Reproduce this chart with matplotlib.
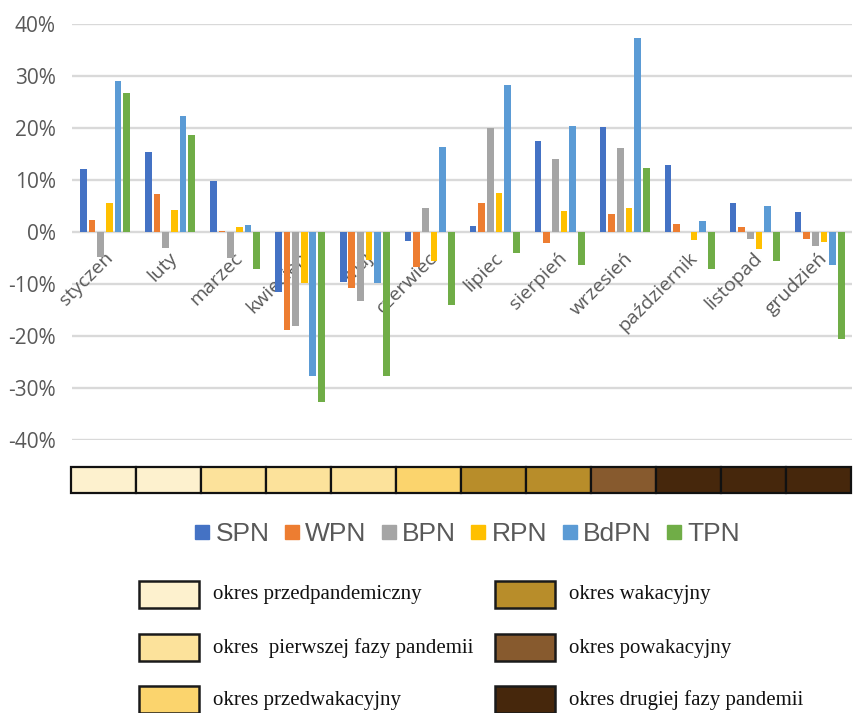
import numpy as np
import matplotlib
matplotlib.use("Agg")
import matplotlib.pyplot as plt
from matplotlib.patches import Rectangle
from matplotlib.lines import Line2D

months = ["styczeń", "luty", "marzec", "kwiecień", "maj", "czerwiec",
          "lipiec", "sierpień", "wrzesień", "październik", "listopad", "grudzień"]

series_names = ["SPN", "WPN", "BPN", "RPN", "BdPN", "TPN"]
series_colors = ["#4472C4", "#ED7D31", "#A5A5A5", "#FFC000", "#5B9BD5", "#70AD47"]

SPN = [12.2, 15.4, 9.8, -11.6, -9.6, -1.7, 1.1, 17.5, 20.3, 12.9, 5.6, 3.8]
WPN = [2.4, 7.4, 0.3, -18.8, -10.8, -6.8, 5.6, -2.1, 3.4, 1.5, 0.9, -1.3]
BPN = [-4.8, -3.0, -5.0, -18.1, -13.3, 4.7, 20.1, 14.1, 16.1, 0.0, -1.3, -2.6]
RPN = [5.6, 4.3, 0.9, -9.8, -5.3, -5.6, 7.5, 4.1, 4.7, -1.5, -3.2, -1.9]
BdPN = [29.1, 22.3, 1.3, -27.7, -9.7, 16.4, 28.3, 20.5, 37.3, 2.2, 5.1, -6.4]
TPN = [26.7, 18.6, -7.1, -32.7, -27.7, -14.1, -4.1, -6.4, 12.4, -7.1, -5.6, -20.6]
series_values = [SPN, WPN, BPN, RPN, BdPN, TPN]

y_ticks = [-40, -30, -20, -10, 0, 10, 20, 30, 40]

periods = ["okres przedpandemiczny", "okres  pierwszej fazy pandemii",
           "okres przedwakacyjny", "okres wakacyjny", "okres powakacyjny",
           "okres drugiej fazy pandemii"]
period_colors = ["#FDF1CE", "#FCE29B", "#FBD46D", "#B88D2A", "#875A2E", "#46270C"]
month_period = [0, 0, 1, 1, 1, 2, 3, 3, 4, 5, 5, 5]

W, H = 854, 713
fig = plt.figure(figsize=(W / 100, H / 100), dpi=100)

def fx(px):
    return px / W

def fy(py):
    return 1 - py / H

# main bar chart
ax = fig.add_axes([fx(72.5), fy(440), fx(852 - 72.5), (440 - 24.3) / H])
x = np.arange(len(months))
step = 0.1333
bw = 0.103
for k, (name, vals, col) in enumerate(zip(series_names, series_values, series_colors)):
    ax.bar(x + (k - 2.5) * step, vals, width=bw, color=col, zorder=3, label=name)

ax.set_xlim(-0.5, len(months) - 0.5)
ax.set_ylim(-40, 40)
ax.set_yticks(y_ticks)
ax.set_yticklabels([f"{v}%" for v in y_ticks], fontfamily="Open Sans",
                   fontsize=15, color="#595959")
ax.tick_params(axis="y", length=0, pad=12)
ax.set_xticks([])
for s in ax.spines.values():
    s.set_visible(False)
for v in y_ticks:
    ax.axhline(v, color="#D9D9D9", lw=1.7, zorder=1)

for i, m in enumerate(months):
    ax.annotate(m, xy=(i, 0), xytext=(-1, -12), textcoords="offset points",
                ha="right", va="top", rotation=45, rotation_mode="anchor",
                fontfamily="Open Sans", fontsize=14, color="#595959", zorder=2)

# period colour strip below the months
sax = fig.add_axes([fx(71), fy(493), fx(851 - 71), 26 / H])
sax.set_xlim(-0.5, len(months) - 0.5)
sax.set_ylim(0, 1)
sax.axis("off")
for i, p in enumerate(month_period):
    sax.add_patch(Rectangle((i - 0.5, 0), 1, 1, facecolor=period_colors[p],
                            edgecolor="#111111", lw=1.6, clip_on=False))

# series legend
handles = [Line2D([], [], marker="s", linestyle="none", markersize=9.5,
                  markerfacecolor=c, markeredgecolor=c) for c in series_colors]
fig.legend(handles, series_names, loc="center", bbox_to_anchor=(fx(467), fy(534)),
           ncol=6, frameon=False, handletextpad=0.2, columnspacing=0.55,
           handlelength=0.6, prop={"family": "Liberation Sans", "size": 19},
           labelcolor="#595959")

# period legend
col_x = [139, 495]
row_y = [581, 634, 686]
for j, (name, col) in enumerate(zip(periods, period_colors)):
    cx = col_x[j // 3]
    ry = row_y[j % 3]
    fig.add_artist(Rectangle((fx(cx), fy(ry + 27)), fx(60), 27 / H,
                             transform=fig.transFigure, facecolor=col,
                             edgecolor="#1a1a1a", lw=1.8))
    fig.text(fx(cx + 74), fy(ry + 14), name, ha="left", va="center",
             fontfamily="Liberation Serif", fontsize=15, color="#111111")

fig.savefig("out.png", dpi=100)
